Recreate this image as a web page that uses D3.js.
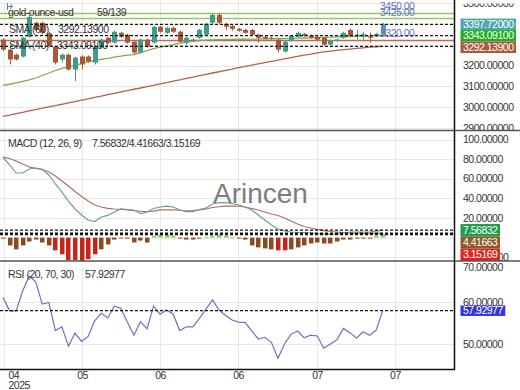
<!DOCTYPE html>
<html><head><meta charset="utf-8">
<script src="https://cdnjs.cloudflare.com/ajax/libs/d3/7.8.5/d3.min.js"></script>
<style>
html,body{margin:0;padding:0;background:#fff;}
svg{display:block;}
text{font-family:"Liberation Sans",Arial,sans-serif;font-size:10.5px;letter-spacing:-0.5px;}
</style></head><body>
<svg id="c" width="520" height="390"></svg>
<script>
// ---------- data ----------
const openP  = [3324,3276,3252,3243,3338,3405,3405,3355,3290,3229,3252,3181,3243,3243,3214,3286,3333,3310,3357,3348,3314,3262,3324,3310,3386,3357,3381,3362,3310,3324,3333,3348,3405,3443,3400,3390,3376,3371,3371,3348,3338,3333,3324,3267,3319,3338,3352,3343,3338,3333,3300,3319,3333,3371,3343,3348,3338,3343,3348];
const highP  = [3330,3281,3257,3338,3443,3410,3410,3362,3295,3257,3257,3243,3248,3248,3295,3329,3338,3367,3362,3352,3319,3329,3329,3390,3390,3386,3386,3367,3338,3329,3376,3405,3452,3452,3405,3395,3381,3376,3376,3352,3343,3338,3329,3319,3348,3362,3357,3348,3343,3338,3324,3329,3362,3376,3371,3362,3357,3357,3405];
const lowP   = [3270,3205,3224,3238,3333,3365,3350,3290,3205,3214,3176,3124,3181,3214,3205,3281,3305,3305,3333,3305,3252,3257,3286,3305,3357,3352,3357,3310,3300,3314,3329,3343,3400,3400,3371,3367,3362,3352,3343,3310,3324,3324,3262,3262,3314,3333,3338,3329,3319,3295,3295,3314,3329,3338,3324,3324,3310,3338,3343];
const closeP = [3276,3229,3229,3333,3433,3371,3357,3295,3214,3252,3181,3238,3205,3219,3290,3324,3310,3362,3338,3310,3262,3324,3290,3386,3362,3381,3362,3314,3333,3322,3371,3400,3443,3405,3386,3376,3367,3357,3348,3333,3329,3329,3276,3314,3343,3357,3343,3333,3324,3300,3319,3324,3357,3343,3348,3352,3336,3352,3397.72];
const sma60 = [2956,2962,2969,2975,2982,2988,2995,3001,3008,3014,3021,3027,3034,3040,3047,3053,3060,3066,3073,3079,3086,3092,3099,3105,3112,3118,3125,3131,3138,3144,3151,3157,3164,3170,3177,3183,3190,3196,3202,3208,3214,3220,3226,3232,3238,3244,3250,3255,3261,3265,3269,3273,3276,3279,3282,3285,3288,3290,3292.139];
const sma40 = [3105,3110,3117,3124,3131,3140,3152,3164,3176,3186,3192,3200,3210,3217,3224,3229,3234,3240,3245,3250,3252,3262,3271,3281,3288,3293,3300,3307,3312,3317,3320,3322,3323,3324,3325,3325,3326,3326,3327,3327,3328,3328,3329,3329,3330,3331,3332,3333,3334,3335,3336,3337,3338,3339,3340,3341,3341,3342,3343.091];
const macdLine = [82,74.1,65.9,65.9,70,71,69.5,63.9,54.7,46.5,37.3,29.2,23.1,18,16.4,21,22.6,26.1,29.2,28.7,28.2,24.6,26.1,29.7,31.2,32.2,31.2,28.2,26.6,26.6,28.7,30.2,34.3,35.6,35.6,34.8,33.3,31.2,28.2,23.1,18,12.9,8.8,6.7,5.7,5.2,5.2,4.7,4.2,3.7,3.2,3.7,4.7,5.7,5.7,5.7,5.7,6.7,7.56832];
const signalLine = [82.2,80.7,78.2,75.1,72,70.7,69.7,66.9,62.9,57.8,52.7,47,41.9,37.3,33.3,31.2,29.9,29.2,28.9,28.2,27.4,26.9,26.4,27.1,28.2,28.2,28.2,27.9,27.4,27.6,28.2,29.2,30.7,31.5,32.2,32.2,32.2,31.2,29.7,28.2,26.1,24.1,22.6,20,16.9,13.9,11.3,9.8,8.3,7.2,6.2,5.7,5.2,4.7,4.4,4.3,4.3,4.3,4.41663];
const histogram = [-1,-8,-12,-8,-4,-2,-5,-8,-13,-17,-23,-23,-24,-22,-17,-12,-7,-2,-0.5,-1,-5,-3,-5,2,3,3,2,-1,-2,-2,-1,0.5,2,3,2,1,-1,-2,-8,-10,-11,-12,-13,-13,-12,-10,-8,-6,-5,-6,-6,-4,-2,-2,-1,-1,-1,2,3.15169];
const rsi = [61.1,57.9,57.9,62.6,66.2,64.8,59.5,59.9,53.2,54.1,49.5,52.6,50.6,51.8,55.5,57.3,56.2,59,58.5,55.2,52.1,55.3,53.6,59,57.1,58.1,57.1,53.2,54.1,54.1,56.1,58.3,60.5,58.1,56.8,55.7,55.2,55.1,53.1,51.2,51.6,50.4,46.6,50,52.3,53.1,51.5,52.1,51.9,49,50,51,53.7,52.7,51.4,52.9,52.1,53.3,57.92977];
const priceTicks = [2900,3000,3100,3200,3300,3400,3500];
const macdTicks = [-20,0,20,40,60,80,100];
const rsiTicks = [50,60,70];
const dateLabels = ["04","05","06","06","07","07"];
const datePos = [0.15,12.07,23.98,35.9,47.96,59.87];
const yearLabel = "2025";
const levelValues = [3450,3425,3320];
const levelLabels = ["3450.00","3425.00","3320.00"];
const symbolName = "gold-ounce-usd", barCount = "59/139";

// ---------- layout ----------
const svg = d3.select("#c");
const PR = 454;
const P = {price:[0,130.5], macd:[130.5,261], rsi:[261,369]};
const axisTop = {price:3.4, macd:131, rsi:261.5};
const x = d3.scaleLinear().domain([0,58]).range([3,382.7]);
const yP = d3.scaleLinear().domain([3200,3500]).range([65.5,2.98]);
const yM = d3.scaleLinear().domain([0,100]).range([237.6,139.6]);
const yR = d3.scaleLinear().domain([50,60]).range([344,302]);
const idx = d3.range(openP.length);

const defs = svg.append("defs");
Object.entries(P).forEach(([k,[a,b]])=>{
  defs.append("clipPath").attr("id","cp-"+k).append("rect").attr("x",0).attr("y",a).attr("width",PR).attr("height",b-a);
  defs.append("clipPath").attr("id","ca-"+k).append("rect").attr("x",PR).attr("y",axisTop[k]).attr("width",520-PR).attr("height",b-axisTop[k]);
});

// grid
const grid = svg.append("g").attr("stroke","#e8e8e8").attr("stroke-width",1);
[[priceTicks,yP,"price"],[macdTicks,yM,"macd"],[rsiTicks,yR,"rsi"]].forEach(([t,s,k])=>{
  grid.append("g").attr("clip-path","url(#cp-"+k+")").selectAll("line").data(t).join("line")
    .attr("x1",0).attr("x2",PR).attr("y1",d=>Math.round(s(d))+0.5).attr("y2",d=>Math.round(s(d))+0.5);
});
grid.selectAll("line.v").data(datePos).join("line").attr("class","v")
  .attr("x1",d=>Math.round(x(d))+0.5).attr("x2",d=>Math.round(x(d))+0.5).attr("y1",0).attr("y2",369);

// ---------- price panel ----------
const gp = svg.append("g").attr("clip-path","url(#cp-price)");
const lvlColors = ["#93c862","#93c862","#c46a4c"];
gp.selectAll("line.lvl").data(levelValues).join("line").attr("class","lvl")
  .attr("x1",0).attr("x2",PR).attr("y1",d=>yP(d)).attr("y2",d=>yP(d))
  .attr("stroke",(d,i)=>lvlColors[i]).attr("stroke-width",1.5);
const line = (s,arr)=>d3.line().x((d,i)=>x(i)).y(d=>s(d))(arr);
gp.append("path").attr("d",line(yP,sma60)).attr("fill","none").attr("stroke","#b8604f").attr("stroke-width",1.3);
gp.append("path").attr("d",line(yP,sma40)).attr("fill","none").attr("stroke","#79ad52").attr("stroke-width",1.3);
const bull="#3f9c8b", bear="#aa563a";
const cg = gp.append("g");
cg.selectAll("line").data(idx).join("line")
  .attr("x1",i=>Math.round(x(i))+0.5).attr("x2",i=>Math.round(x(i))+0.5)
  .attr("y1",i=>yP(highP[i])).attr("y2",i=>yP(lowP[i]))
  .attr("stroke",i=>i===58?"#5b96b4":(closeP[i]>=openP[i]?bull:bear)).attr("stroke-width",1);
cg.selectAll("rect").data(idx).join("rect")
  .attr("x",i=>Math.round(x(i))-2).attr("width",5)
  .attr("y",i=>yP(Math.max(openP[i],closeP[i])))
  .attr("height",i=>Math.max(1,Math.abs(yP(openP[i])-yP(closeP[i]))))
  .attr("fill",i=>i===58?"#5b96b4":(closeP[i]>=openP[i]?bull:bear));
const lastP=[closeP[58],sma40[58],sma60[58]];
gp.selectAll("line.dash").data(lastP).join("line").attr("class","dash")
  .attr("x1",0).attr("x2",PR).attr("y1",d=>yP(d)).attr("y2",d=>yP(d))
  .attr("stroke","#111").attr("stroke-width",1.3).attr("stroke-dasharray","3,2");
gp.selectAll("text.lvl").data(levelValues).join("text").attr("class","lvl")
  .attr("x",380).attr("y",d=>yP(d)-3).attr("fill","#6a74c8").text((d,i)=>levelLabels[i]);
// legend
const lg = svg.append("g").attr("fill","#333");
lg.append("text").attr("x",8).attr("y",15.5).text(symbolName);
lg.append("text").attr("x",97).attr("y",15.5).text(barCount);
lg.append("text").attr("x",9).attr("y",32.5).text("SMA (60)");
lg.append("text").attr("x",58).attr("y",32.5).text(d3.format(".5f")(sma60[58]));
lg.append("text").attr("x",9).attr("y",48.5).text("SMA (40)");
lg.append("text").attr("x",57).attr("y",48.5).text(d3.format(".5f")(sma40[58]));
svg.append("path").attr("d","M7.5,3 V10 M7.5,6.5 H13 M11,4 V9").attr("stroke","#5577cc").attr("fill","none").attr("stroke-width",1);

// ---------- MACD panel ----------
const gm = svg.append("g").attr("clip-path","url(#cp-macd)");
gm.append("text").attr("x",213).attr("y",203).attr("fill","#7d7d7d")
  .style("font-size","28px").style("letter-spacing","0px").text("Arincen");
gm.selectAll("rect").data(idx).join("rect")
  .attr("x",i=>Math.round(x(i))-2).attr("width",4.5)
  .attr("y",i=>Math.min(yM(0),yM(histogram[i])))
  .attr("height",i=>Math.max(0.8,Math.abs(yM(histogram[i])-yM(0))))
  .attr("fill",i=>histogram[i]>=0?"#86d068":(histogram[i]< -12.5?"#c4261b":"#8e4a1e"));
gm.append("path").attr("d",line(yM,signalLine)).attr("fill","none").attr("stroke","#a8725a").attr("stroke-width",1.2);
gm.append("path").attr("d",line(yM,macdLine)).attr("fill","none").attr("stroke","#6f9f8c").attr("stroke-width",1.2);
const lastM=[macdLine[58],signalLine[58],histogram[58]];
gm.selectAll("line.dash").data(lastM).join("line").attr("class","dash")
  .attr("x1",0).attr("x2",PR).attr("y1",d=>yM(d)).attr("y2",d=>yM(d))
  .attr("stroke","#111").attr("stroke-width",1.3).attr("stroke-dasharray","3,2");
svg.append("text").attr("x",8).attr("y",147).attr("fill","#333").text("MACD (12, 26, 9)");
svg.append("text").attr("x",92).attr("y",147).attr("fill","#333").text(lastM.map(d3.format(".5f")).join("/"));

// ---------- RSI panel ----------
const gr = svg.append("g").attr("clip-path","url(#cp-rsi)");
gr.append("path").attr("d",line(yR,rsi)).attr("fill","none").attr("stroke","#7070c0").attr("stroke-width",1.2);
gr.append("line").attr("x1",0).attr("x2",PR).attr("y1",yR(rsi[58])).attr("y2",yR(rsi[58]))
  .attr("stroke","#111").attr("stroke-width",1.3).attr("stroke-dasharray","3,2");
svg.append("text").attr("x",8).attr("y",277.5).attr("fill","#333").text("RSI (20, 70, 30)");
svg.append("text").attr("x",85).attr("y",277.5).attr("fill","#333").text(d3.format(".5f")(rsi[58]));

// ---------- axes ----------
const axisTexts = [];
function rightAxis(scale,ticks,key){
  const outer = svg.append("g").attr("clip-path","url(#ca-"+key+")");
  const g = outer.append("g").attr("transform",`translate(${PR},0)`)
    .call(d3.axisRight(scale).tickValues(ticks).tickSize(0).tickPadding(9).tickFormat(d3.format(".5f")));
  g.select(".domain").remove();
  g.selectAll("text").attr("fill","#333").style("font-size","10.5px").attr("dy","0.3em");
  const top = P[key][0];
  g.selectAll(".tick").each(function(d){
    const yy = scale(d);
    if (key!=="price" && yy < top+6 && yy > top-2) d3.select(this).select("text").attr("y", top+6-yy);
    axisTexts.push(d3.select(this).select("text").node());
  });
  return g;
}
rightAxis(yP,priceTicks,"price");
rightAxis(yM,macdTicks,"macd");
rightAxis(yR,rsiTicks,"rsi");

const xa = svg.append("g").attr("transform","translate(0,369)")
  .call(d3.axisBottom(x).tickValues(datePos).tickSize(0).tickPadding(3).tickFormat((d,i)=>dateLabels[i]));
xa.select(".domain").remove();
xa.selectAll("text").attr("fill","#333").style("font-size","10.5px");
xa.selectAll(".tick").filter((d,i)=>i===0).select("text").attr("text-anchor","start").attr("x",4);
xa.selectAll(".tick").filter((d,i)=>i===0).append("text").attr("x",4).attr("y",12.5).attr("dy","0.71em")
  .attr("fill","#333").attr("text-anchor","start").style("font-size","10.5px").text(yearLabel);

// value boxes
const boxes = [];
function valueBoxes(vals,scale,colors,h){
  let prevBottom = -Infinity;
  vals.forEach((v,i)=>{
    const cy = scale(v);
    const top = Math.max(cy - h/2, prevBottom);
    prevBottom = top + h;
    const g = svg.append("g");
    const r = g.append("rect").attr("x",460.5).attr("y",top).attr("height",h).attr("fill",colors[i]);
    const t = g.append("text").attr("x",463).attr("y",top+h/2).attr("dy","0.35em").attr("fill","#fff").text(d3.format(".5f")(v));
    const w = t.node().getComputedTextLength();
    r.attr("width",w+5);
    boxes.push({x0:460.5,x1:460.5+w+5,y0:top,y1:top+h});
  });
}
valueBoxes(lastP,yP,["#4fa7ad","#1fae24","#a85a3e"],11.5);
valueBoxes(lastM,yM,["#1f9d4c","#8b5a2b","#e0241d"],12.3);
valueBoxes([rsi[58]],yR,["#3434dc"],10.5);

// axis labels hidden behind a value box are dropped (they are covered there)
axisTexts.forEach(n=>{
  const b = n.getBoundingClientRect();
  const hidden = boxes.some(bx=>{
    const ov = Math.min(b.bottom,bx.y1)-Math.max(b.top,bx.y0);
    return ov > 0.5*b.height && b.right <= bx.x1 + 3;
  });
  if (hidden) n.remove();
});

// frame
const fr = svg.append("g").attr("fill","none");
fr.append("line").attr("x1",0).attr("x2",520).attr("y1",130.5).attr("y2",130.5).attr("stroke","#555").attr("stroke-width",1.5);
fr.append("line").attr("x1",0).attr("x2",520).attr("y1",261).attr("y2",261).attr("stroke","#555").attr("stroke-width",1.5);
fr.append("line").attr("x1",PR+0.5).attr("x2",PR+0.5).attr("y1",0).attr("y2",369.5).attr("stroke","#111").attr("stroke-width",1.5);
fr.append("line").attr("x1",0).attr("x2",PR+1).attr("y1",369.5).attr("y2",369.5).attr("stroke","#111").attr("stroke-width",1.5);
</script>
</body></html>
